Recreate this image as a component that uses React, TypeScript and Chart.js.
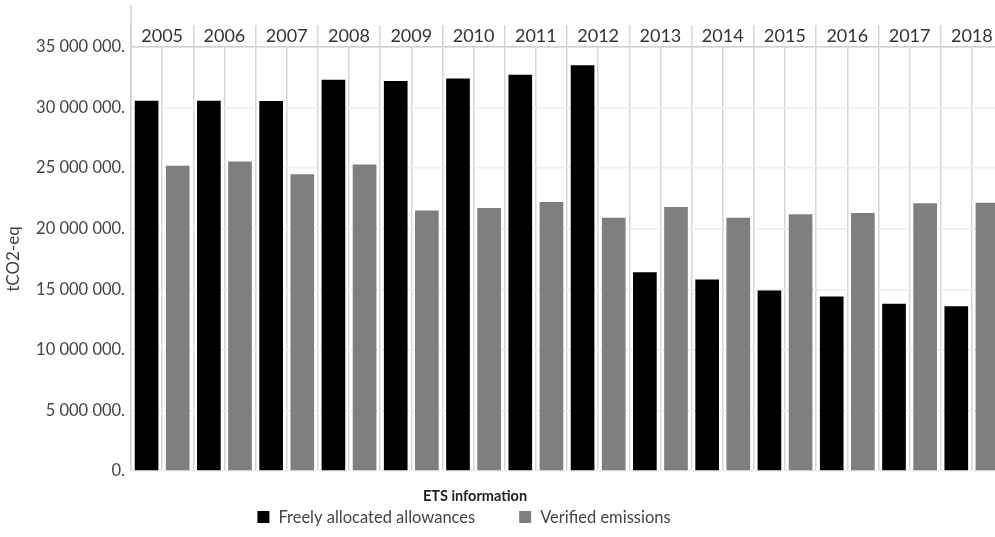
import React, { useEffect, useRef } from "react";
import { Chart, registerables } from "chart.js";

Chart.register(...registerables);

const years = ["2005", "2006", "2007", "2008", "2009", "2010", "2011", "2012", "2013", "2014", "2015", "2016", "2017", "2018"];
const freelyAllocated = [30570000, 30570000, 30550000, 32300000, 32200000, 32400000, 32700000, 33500000, 16400000, 15800000, 14900000, 14400000, 13800000, 13600000];
const verifiedEmissions = [25200000, 25550000, 24500000, 25300000, 21500000, 21700000, 22200000, 20900000, 21800000, 20900000, 21200000, 21300000, 22100000, 22150000];
const yTicks = [0, 5000000, 10000000, 15000000, 20000000, 25000000, 30000000, 35000000];
const seriesNames = ["Freely allocated allowances", "Verified emissions"];
const seriesColors = ["#000000", "#7f7f7f"];
const yTitle = "tCO2-eq";
const xTitle = "ETS information";

const FONT = "Lato, 'Open Sans', sans-serif";

function fmt(v: number): string {
  const s = Math.round(v).toString().replace(/\B(?=(\d{3})+(?!\d))/g, " ");
  return s + ".";
}

const extrasPlugin = {
  id: "extras",
  afterDraw(chart: any) {
    const ctx = chart.ctx;
    const area = chart.chartArea;
    ctx.save();
    // y axis line extension above plot
    ctx.strokeStyle = "#cfcfcf";
    ctx.lineWidth = 1.5;
    ctx.beginPath();
    ctx.moveTo(area.left, 5);
    ctx.lineTo(area.left, area.top);
    ctx.stroke();

    // bottom title
    ctx.fillStyle = "#222";
    ctx.font = `bold 14.5px ${FONT}`;
    ctx.textAlign = "center";
    ctx.textBaseline = "middle";
    ctx.fillText(xTitle, 475, 496);

    // legend
    ctx.font = `16.5px ${FONT}`;
    const box = 12;
    const gap = 9;
    const itemGap = 44;
    const items = chart.data.datasets.map((d: any) => ({
      label: d.label,
      color: d.backgroundColor,
      w: ctx.measureText(d.label).width,
    }));
    let total = 0;
    items.forEach((it: any, i: number) => {
      total += box + gap + it.w + (i > 0 ? itemGap : 0);
    });
    let x = 464 - total / 2;
    const cy = 517;
    ctx.textAlign = "left";
    items.forEach((it: any, i: number) => {
      if (i > 0) x += itemGap;
      ctx.fillStyle = it.color;
      ctx.fillRect(x, cy - box / 2, box, box);
      x += box + gap;
      ctx.fillStyle = "#444";
      ctx.fillText(it.label, x, cy + 1);
      x += it.w;
    });
    ctx.restore();
  },
};

export default function App() {
  const ref = useRef<HTMLCanvasElement | null>(null);

  useEffect(() => {
    if (!ref.current) return;
    const chart = new Chart(ref.current, {
      type: "bar",
      data: {
        labels: years,
        datasets: [
          {
            label: seriesNames[0],
            data: freelyAllocated,
            backgroundColor: seriesColors[0],
            borderWidth: 0,
            barPercentage: 0.76,
            categoryPercentage: 1,
          },
          {
            label: seriesNames[1],
            data: verifiedEmissions,
            backgroundColor: seriesColors[1],
            borderWidth: 0,
            barPercentage: 0.76,
            categoryPercentage: 1,
          },
        ],
      },
      options: {
        animation: false,
        responsive: true,
        maintainAspectRatio: false,
        layout: { padding: { left: 0, right: 0, top: 0, bottom: 66 } },
        plugins: {
          legend: { display: false },
          title: { display: false },
          tooltip: { enabled: false },
        },
        scales: {
          x: {
            type: "category",
            position: "top",
            offset: true,
            grid: {
              offset: true,
              color: "#d6d6d6",
              lineWidth: 1.5,
              drawTicks: true,
              tickLength: 22,
              tickColor: "#d6d6d6",
            },
            border: { display: true, color: "#cfcfcf", width: 1.5 },
            ticks: {
              color: "#333",
              font: { family: FONT, size: 18 },
              padding: -22,
              maxRotation: 0,
              autoSkip: false,
            },
            afterFit: (s: any) => {
              s.height = 47;
            },
          },
          x2: {
            type: "category",
            labels: years,
            position: "top",
            offset: true,
            grid: {
              offset: false,
              color: "#d6d6d6",
              lineWidth: 1.5,
              drawTicks: false,
            },
            border: { display: false },
            ticks: { display: false },
            afterFit: (s: any) => {
              s.height = 0;
            },
          },
          y: {
            min: 0,
            max: 35000000,
            afterBuildTicks: (s: any) => {
              s.ticks = yTicks.map((v) => ({ value: v }));
            },
            grid: { color: "#eeeeee", lineWidth: 1.5, drawTicks: false },
            border: { display: true, color: "#cfcfcf", width: 1.5 },
            ticks: {
              color: "#444",
              font: { family: FONT, size: 16.5 },
              padding: 6,
              callback: (v: any) => fmt(Number(v)),
            },
            title: {
              display: true,
              text: yTitle,
              color: "#444",
              font: { family: FONT, size: 17 },
              padding: { top: 3, bottom: 0 },
            },
            afterFit: (s: any) => {
              s.width = 131;
            },
          },
        },
      },
      plugins: [extrasPlugin],
    });
    return () => chart.destroy();
  }, []);

  return (
    <div
      style={{
        position: "fixed",
        left: 0,
        top: 0,
        width: 995,
        height: 537,
        overflow: "hidden",
        background: "#fff",
      }}
    >
      <div style={{ position: "absolute", left: 0, top: 0, width: 1003, height: 537 }}>
        <canvas ref={ref} />
      </div>
    </div>
  );
}
